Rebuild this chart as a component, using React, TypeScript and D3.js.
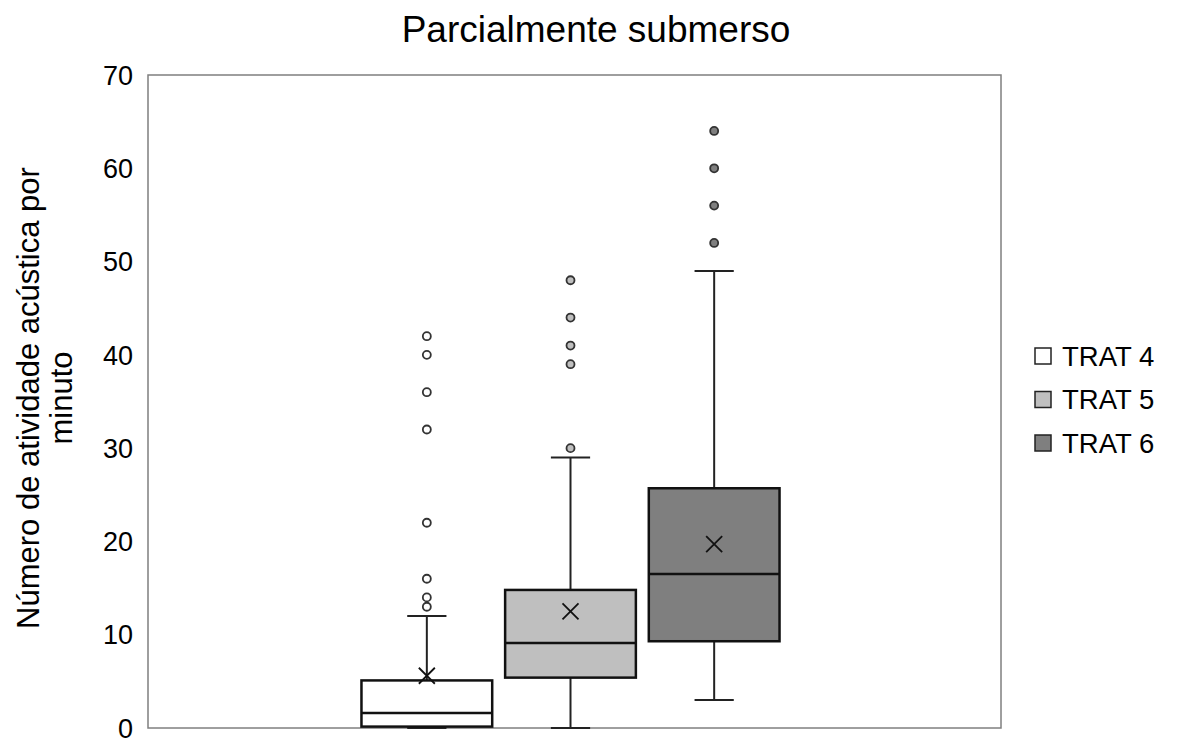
import React from "react";
import * as d3 from "d3";

const series = ["TRAT 4", "TRAT 5", "TRAT 6"];
const fills = ["#ffffff", "#bfbfbf", "#7f7f7f"];
const q1 = [0.15, 5.4, 9.3];
const median = [1.6, 9.1, 16.5];
const q3 = [5.1, 14.8, 25.7];
const whiskerLow = [0, 0, 3];
const whiskerHigh = [12, 29, 49];
const means = [5.6, 12.5, 19.7];
const outliers = [
  [13, 14, 16, 22, 32, 36, 40, 42],
  [30, 39, 41, 44, 48],
  [52, 56, 60, 64],
];
const yTicks = [0, 10, 20, 30, 40, 50, 60, 70];
const title = "Parcialmente submerso";
const yLabelLines = ["Número de atividade acústica por", "minuto"];

const W = 1183;
const H = 738;
const plot = { left: 148, right: 1001, top: 75, bottom: 728 };

export default function App() {
  const y = d3.scaleLinear().domain([0, 70]).range([plot.bottom, plot.top]);
  const x = d3
    .scaleBand<string>()
    .domain(series)
    .range([355, 786])
    .paddingInner(0.09)
    .paddingOuter(0.045);
  const bw = x.bandwidth();
  const font = "Liberation Sans, Arial, sans-serif";

  return (
    <svg
      width={W}
      height={H}
      style={{ position: "absolute", left: 0, top: 0, background: "#fff" }}
      fontFamily={font}
    >
      <text x={596} y={42} fontSize={37} textAnchor="middle" fill="#000">
        {title}
      </text>
      {/* frame */}
      <rect
        x={plot.left}
        y={plot.top}
        width={plot.right - plot.left}
        height={plot.bottom - plot.top}
        fill="none"
        stroke="#7f7f7f"
        strokeWidth={1.5}
      />
      {/* y tick labels */}
      {yTicks.map((t) => (
        <text
          key={t}
          x={133}
          y={y(t)}
          dy="0.36em"
          fontSize={27}
          textAnchor="end"
          fill="#000"
        >
          {t}
        </text>
      ))}
      {/* y label */}
      <g transform={`translate(0, 398) rotate(-90)`}>
        {yLabelLines.map((l, i) => (
          <text
            key={i}
            x={0}
            y={39 + i * 33}
            fontSize={31}
            textAnchor="middle"
            fill="#000"
          >
            {l}
          </text>
        ))}
      </g>
      {/* boxes */}
      {series.map((s, i) => {
        const x0 = x(s)!;
        const cx = x0 + bw / 2;
        const capW = bw * 0.3;
        const mk = 8;
        return (
          <g key={s}>
            <line x1={cx} x2={cx} y1={y(q3[i])} y2={y(whiskerHigh[i])} stroke="#222" strokeWidth={2} />
            <line x1={cx} x2={cx} y1={y(q1[i])} y2={y(whiskerLow[i])} stroke="#222" strokeWidth={2} />
            <line x1={cx - capW / 2} x2={cx + capW / 2} y1={y(whiskerHigh[i])} y2={y(whiskerHigh[i])} stroke="#222" strokeWidth={2} />
            <line x1={cx - capW / 2} x2={cx + capW / 2} y1={y(whiskerLow[i])} y2={y(whiskerLow[i])} stroke="#222" strokeWidth={2} />
            <rect
              x={x0}
              y={y(q3[i])}
              width={bw}
              height={y(q1[i]) - y(q3[i])}
              fill={fills[i]}
              stroke="#111"
              strokeWidth={2.5}
            />
            <line x1={x0} x2={x0 + bw} y1={y(median[i])} y2={y(median[i])} stroke="#111" strokeWidth={2.5} />
            <path
              d={`M${cx - mk},${y(means[i]) - mk}L${cx + mk},${y(means[i]) + mk}M${cx - mk},${y(means[i]) + mk}L${cx + mk},${y(means[i]) - mk}`}
              stroke="#111"
              strokeWidth={1.8}
              fill="none"
            />
            {outliers[i].map((o, j) => (
              <circle key={j} cx={cx} cy={y(o)} r={4} fill={fills[i]} stroke="#333" strokeWidth={1.8} />
            ))}
          </g>
        );
      })}
      {/* legend */}
      {series.map((s, i) => (
        <g key={s} transform={`translate(1035, ${356 + i * 43.5})`}>
          <rect x={0} y={-8} width={16} height={16} fill={fills[i]} stroke="#222" strokeWidth={1.5} />
          <text x={27} y={0} dy="0.36em" fontSize={27.5} fill="#000">
            {s}
          </text>
        </g>
      ))}
    </svg>
  );
}
